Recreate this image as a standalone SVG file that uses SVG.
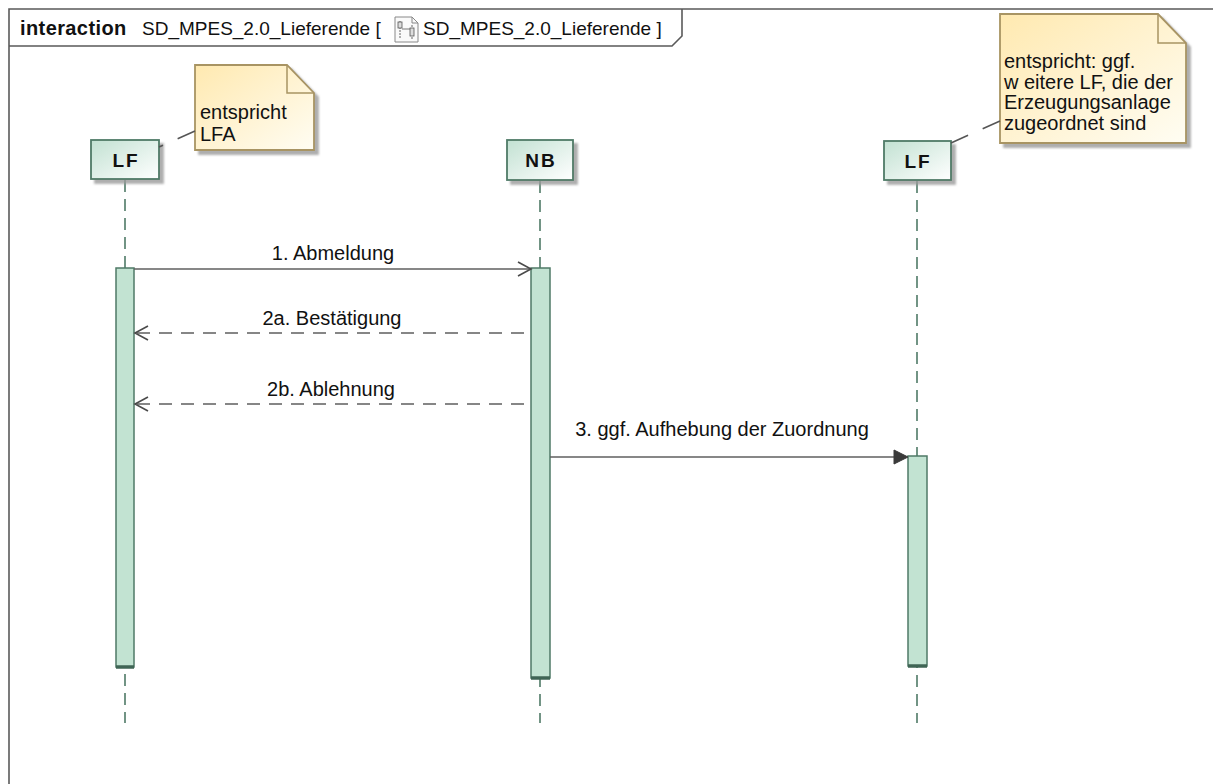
<svg xmlns="http://www.w3.org/2000/svg" width="1213" height="784" viewBox="0 0 1213 784">
<style>
text{font-family:"Liberation Sans",Arial,sans-serif;fill:#111;}
.lbl{font-size:20px;}
.ttl{font-size:19px;}
.pname{font-size:19px;font-weight:bold;letter-spacing:2px;text-anchor:middle;}
.frame{fill:none;stroke:#5a5a5a;stroke-width:1.6;}
.pbox{fill:url(#gp);stroke:#4f7a67;stroke-width:1.8;filter:url(#sh);}
.life{stroke:#4f7a67;stroke-width:1.6;stroke-dasharray:12 7;fill:none;}
.bar{fill:#c2e3d2;stroke:#4f7a67;stroke-width:1.5;}
.barend{stroke:#3f6555;stroke-width:3.5;}
.note{fill:url(#gn);stroke:#a89463;stroke-width:1.8;filter:url(#sh);}
.fold{fill:none;stroke:#a89463;stroke-width:1.5;}
.nlink{stroke:#555;stroke-width:1.6;stroke-dasharray:19 16;fill:none;}
.msg{stroke:#5f5f5f;stroke-width:1.6;fill:none;}
.ret{stroke:#5f5f5f;stroke-width:1.6;stroke-dasharray:13 9;fill:none;}
.open{stroke:#4a4a4a;stroke-width:1.6;fill:none;}
</style>
<defs>
<linearGradient id="gp" x1="0" y1="0" x2="1" y2="1">
<stop offset="0" stop-color="#c2e1d2"/>
<stop offset="1" stop-color="#ffffff"/>
</linearGradient>
<linearGradient id="gn" x1="0" y1="0" x2="1" y2="1">
<stop offset="0" stop-color="#ffe9b0"/>
<stop offset="1" stop-color="#fffdf3"/>
</linearGradient>
<filter id="sh" x="-10%" y="-10%" width="130%" height="130%">
<feDropShadow dx="4" dy="4" stdDeviation="1.2" flood-color="#9a9a9a" flood-opacity="0.8"/>
</filter>
</defs>
<rect width="1213" height="784" fill="#ffffff"/>

<g id="frame">
<path class="frame" d="M9,784 L9,9 L1213,9"/>
<path class="frame" d="M9,46 L672,46 L682,36 L682,9"/>
<text class="ttl" x="20" y="35" style="font-weight:bold;font-size:20px;letter-spacing:0.4px">interaction</text>
<text class="ttl" x="142" y="35">SD_MPES_2.0_Lieferende [</text>
<g id="icon">
<path d="M395,17 L412,17 L418,23 L418,42 L395,42 Z" fill="#fafafa" stroke="#888" stroke-width="1"/>
<path d="M412,17 L412,23 L418,23" fill="none" stroke="#888" stroke-width="1"/>
<line x1="400" y1="21" x2="400" y2="39" stroke="#666" stroke-width="1" stroke-dasharray="2 1"/>
<line x1="412" y1="25" x2="412" y2="39" stroke="#666" stroke-width="1" stroke-dasharray="2 1"/>
<rect x="398" y="22" width="4" height="6" fill="#ddd" stroke="#555" stroke-width="0.8"/>
<rect x="410" y="28" width="4" height="8" fill="#ddd" stroke="#555" stroke-width="0.8"/>
<line x1="402" y1="29" x2="410" y2="29" stroke="#555" stroke-width="0.8"/>
</g>
<text class="ttl" x="423" y="35">SD_MPES_2.0_Lieferende ]</text>
</g>

<g id="lifelines">
<line class="life" x1="125" y1="180" x2="125" y2="723"/>
<line class="life" x1="540" y1="181" x2="540" y2="723"/>
<line class="life" x1="917" y1="181" x2="917" y2="723"/>
</g>

<g id="p_LF1">
<rect class="pbox" x="91" y="140" width="68" height="39"/>
<text class="pname" x="126" y="167">LF</text>
</g>
<g id="p_NB">
<rect class="pbox" x="507" y="140" width="66" height="40"/>
<text class="pname" x="541" y="167">NB</text>
</g>
<g id="p_LF2">
<rect class="pbox" x="884" y="141" width="67" height="39"/>
<text class="pname" x="918" y="168">LF</text>
</g>

<g id="act_LF1">
<rect class="bar" x="116" y="268" width="18" height="399"/>
<line class="barend" x1="116" y1="667" x2="134" y2="667"/>
</g>
<g id="act_NB">
<rect class="bar" x="531" y="268" width="19" height="410"/>
<line class="barend" x1="531" y1="678" x2="550" y2="678"/>
</g>
<g id="act_LF2">
<rect class="bar" x="908" y="456" width="19" height="210"/>
<line class="barend" x1="908" y1="666" x2="927" y2="666"/>
</g>

<g id="note1">
<path class="note" d="M195,65 L287,65 L314,93 L314,150 L195,150 Z"/>
<path class="fold" d="M287,65 L287,93 L314,93"/>
<text class="lbl" x="200" y="119">entspricht</text>
<text class="lbl" x="200" y="141">LFA</text>
</g>
<g id="note2">
<path class="note" d="M1000,14 L1158,14 L1186,43 L1186,143 L1000,143 Z"/>
<path class="fold" d="M1158,14 L1158,43 L1186,43"/>
<text class="lbl" x="1004" y="68">entspricht: ggf.</text>
<text class="lbl" x="1004" y="89">w eitere LF, die der</text>
<text class="lbl" x="1004" y="109">Erzeugungsanlage</text>
<text class="lbl" x="1004" y="130">zugeordnet sind</text>
</g>

<g id="connectors">
<path class="nlink" d="M195,131 L159,147"/>
<path class="nlink" d="M1000,121 L951,143"/>

<line class="msg" x1="134" y1="269" x2="530" y2="269"/>
<path class="open" d="M518,262 L531,269 L518,276"/>
<text class="lbl" x="333" y="260" text-anchor="middle">1. Abmeldung</text>

<line class="ret" x1="524" y1="333" x2="136" y2="333"/>
<path class="open" d="M148,326 L135,333 L148,340"/>
<text class="lbl" x="332" y="325" text-anchor="middle">2a. Bestätigung</text>

<line class="ret" x1="524" y1="404" x2="136" y2="404"/>
<path class="open" d="M148,397 L135,404 L148,411"/>
<text class="lbl" x="331" y="396" text-anchor="middle">2b. Ablehnung</text>

<line class="msg" x1="550" y1="457" x2="896" y2="457"/>
<path d="M894,450 L908,457 L894,464 Z" fill="#3a3a3a" stroke="#3a3a3a" stroke-width="1"/>
<text class="lbl" x="722" y="436" text-anchor="middle">3. ggf. Aufhebung der Zuordnung</text>
</g>
</svg>
